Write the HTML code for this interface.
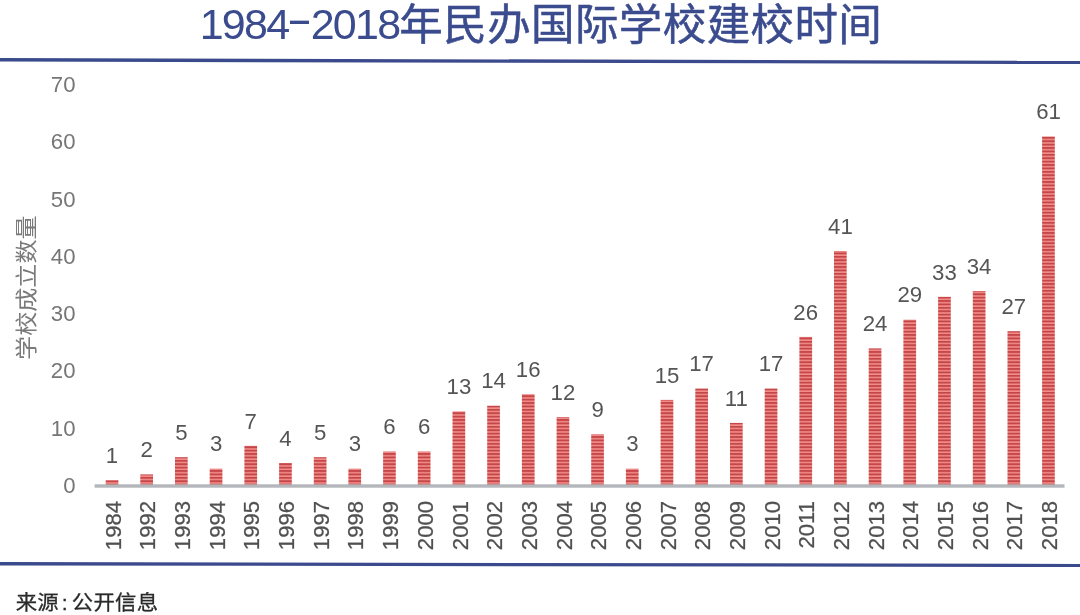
<!DOCTYPE html>
<html lang="zh-CN"><head><meta charset="utf-8"><title>1984-2018年民办国际学校建校时间</title>
<style>
html,body{margin:0;padding:0;background:#fff;}
body{width:1080px;height:615px;overflow:hidden;position:relative;}
svg{position:absolute;left:0;top:0;display:block;}
.lat{font-family:"Liberation Sans","Noto Sans CJK SC",sans-serif;}
.cjk{font-family:"Liberation Sans","Noto Sans CJK SC",sans-serif;}
</style></head><body>
<svg width="1080" height="615" viewBox="0 0 1080 615">
<defs>
<pattern id="st" x="0" y="0.9" width="14" height="3.4" patternUnits="userSpaceOnUse">
<rect x="0" y="0" width="14" height="3.4" fill="#c5464a"/>
<rect x="0" y="1.9" width="14" height="1.5" fill="#f28f88"/>
</pattern>
</defs>
<rect width="1080" height="615" fill="#ffffff"/>
<text class="cjk" x="199.7" y="38.8" font-size="43.5" fill="#3a4b8e"><tspan font-size="43" letter-spacing="-1.75">1984</tspan><tspan font-size="42" dx="-1.8" dy="-5" textLength="26" lengthAdjust="spacingAndGlyphs">-</tspan><tspan font-size="43" dx="-1.9" dy="5" letter-spacing="-1.75">2018</tspan><tspan dx="0" dy="1.2" letter-spacing="0.4" stroke="#3a4b8e" stroke-width="0.5">年民办国际学校建校时间</tspan></text>
<polygon points="0,58.1 1080,60.8 1080,64.1 0,61.6" fill="#3b4a8c"/>
<polygon points="0,562.1 1080,563.9 1080,567 0,565.4" fill="#3b4a8c"/>
<text class="lat" x="75.5" y="493.0" font-size="22.2" fill="#767676" text-anchor="end">0</text>
<text class="lat" x="75.5" y="435.7" font-size="22.2" fill="#767676" text-anchor="end">10</text>
<text class="lat" x="75.5" y="378.4" font-size="22.2" fill="#767676" text-anchor="end">20</text>
<text class="lat" x="75.5" y="321.1" font-size="22.2" fill="#767676" text-anchor="end">30</text>
<text class="lat" x="75.5" y="263.8" font-size="22.2" fill="#767676" text-anchor="end">40</text>
<text class="lat" x="75.5" y="206.5" font-size="22.2" fill="#767676" text-anchor="end">50</text>
<text class="lat" x="75.5" y="149.2" font-size="22.2" fill="#767676" text-anchor="end">60</text>
<text class="lat" x="75.5" y="91.9" font-size="22.2" fill="#767676" text-anchor="end">70</text>
<text class="cjk" transform="translate(33.9,287.7) rotate(-90) scale(1,0.92)" font-size="24.1" fill="#7a7a7a" text-anchor="middle">学校成立数量</text>
<rect x="105.7" y="480.2" width="12.7" height="5.7" fill="url(#st)"/>
<text class="lat" x="112.0" y="462.9" font-size="22.2" fill="#555555" text-anchor="middle">1</text>
<text class="lat" transform="translate(120.6,501) rotate(-90)" font-size="22.1" fill="#505050" stroke="#505050" stroke-width="0.25" text-anchor="end">1984</text>
<rect x="140.3" y="474.4" width="12.7" height="11.5" fill="url(#st)"/>
<text class="lat" x="146.7" y="457.1" font-size="22.2" fill="#555555" text-anchor="middle">2</text>
<text class="lat" transform="translate(155.3,501) rotate(-90)" font-size="22.1" fill="#505050" stroke="#505050" stroke-width="0.25" text-anchor="end">1992</text>
<rect x="175.0" y="457.2" width="12.7" height="28.6" fill="url(#st)"/>
<text class="lat" x="181.4" y="439.9" font-size="22.2" fill="#555555" text-anchor="middle">5</text>
<text class="lat" transform="translate(190.0,501) rotate(-90)" font-size="22.1" fill="#505050" stroke="#505050" stroke-width="0.25" text-anchor="end">1993</text>
<rect x="209.7" y="468.7" width="12.7" height="17.2" fill="url(#st)"/>
<text class="lat" x="216.1" y="451.4" font-size="22.2" fill="#555555" text-anchor="middle">3</text>
<text class="lat" transform="translate(224.7,501) rotate(-90)" font-size="22.1" fill="#505050" stroke="#505050" stroke-width="0.25" text-anchor="end">1994</text>
<rect x="244.4" y="445.8" width="12.7" height="40.1" fill="url(#st)"/>
<text class="lat" x="250.7" y="428.5" font-size="22.2" fill="#555555" text-anchor="middle">7</text>
<text class="lat" transform="translate(259.3,501) rotate(-90)" font-size="22.1" fill="#505050" stroke="#505050" stroke-width="0.25" text-anchor="end">1995</text>
<rect x="279.1" y="463.0" width="12.7" height="22.9" fill="url(#st)"/>
<text class="lat" x="285.4" y="445.7" font-size="22.2" fill="#555555" text-anchor="middle">4</text>
<text class="lat" transform="translate(294.0,501) rotate(-90)" font-size="22.1" fill="#505050" stroke="#505050" stroke-width="0.25" text-anchor="end">1996</text>
<rect x="313.8" y="457.2" width="12.7" height="28.6" fill="url(#st)"/>
<text class="lat" x="320.1" y="439.9" font-size="22.2" fill="#555555" text-anchor="middle">5</text>
<text class="lat" transform="translate(328.7,501) rotate(-90)" font-size="22.1" fill="#505050" stroke="#505050" stroke-width="0.25" text-anchor="end">1997</text>
<rect x="348.4" y="468.7" width="12.7" height="17.2" fill="url(#st)"/>
<text class="lat" x="354.8" y="451.4" font-size="22.2" fill="#555555" text-anchor="middle">3</text>
<text class="lat" transform="translate(363.4,501) rotate(-90)" font-size="22.1" fill="#505050" stroke="#505050" stroke-width="0.25" text-anchor="end">1998</text>
<rect x="383.1" y="451.5" width="12.7" height="34.4" fill="url(#st)"/>
<text class="lat" x="389.5" y="434.2" font-size="22.2" fill="#555555" text-anchor="middle">6</text>
<text class="lat" transform="translate(398.1,501) rotate(-90)" font-size="22.1" fill="#505050" stroke="#505050" stroke-width="0.25" text-anchor="end">1999</text>
<rect x="417.8" y="451.5" width="12.7" height="34.4" fill="url(#st)"/>
<text class="lat" x="424.2" y="434.2" font-size="22.2" fill="#555555" text-anchor="middle">6</text>
<text class="lat" transform="translate(432.8,501) rotate(-90)" font-size="22.1" fill="#505050" stroke="#505050" stroke-width="0.25" text-anchor="end">2000</text>
<rect x="452.5" y="411.4" width="12.7" height="74.5" fill="url(#st)"/>
<text class="lat" x="458.9" y="394.1" font-size="22.2" fill="#555555" text-anchor="middle">13</text>
<text class="lat" transform="translate(467.5,501) rotate(-90)" font-size="22.1" fill="#505050" stroke="#505050" stroke-width="0.25" text-anchor="end">2001</text>
<rect x="487.2" y="405.7" width="12.7" height="80.2" fill="url(#st)"/>
<text class="lat" x="493.5" y="388.4" font-size="22.2" fill="#555555" text-anchor="middle">14</text>
<text class="lat" transform="translate(502.1,501) rotate(-90)" font-size="22.1" fill="#505050" stroke="#505050" stroke-width="0.25" text-anchor="end">2002</text>
<rect x="521.9" y="394.2" width="12.7" height="91.7" fill="url(#st)"/>
<text class="lat" x="528.2" y="376.9" font-size="22.2" fill="#555555" text-anchor="middle">16</text>
<text class="lat" transform="translate(536.8,501) rotate(-90)" font-size="22.1" fill="#505050" stroke="#505050" stroke-width="0.25" text-anchor="end">2003</text>
<rect x="556.6" y="417.1" width="12.7" height="68.8" fill="url(#st)"/>
<text class="lat" x="562.9" y="399.8" font-size="22.2" fill="#555555" text-anchor="middle">12</text>
<text class="lat" transform="translate(571.5,501) rotate(-90)" font-size="22.1" fill="#505050" stroke="#505050" stroke-width="0.25" text-anchor="end">2004</text>
<rect x="591.2" y="434.3" width="12.7" height="51.6" fill="url(#st)"/>
<text class="lat" x="597.6" y="417.0" font-size="22.2" fill="#555555" text-anchor="middle">9</text>
<text class="lat" transform="translate(606.2,501) rotate(-90)" font-size="22.1" fill="#505050" stroke="#505050" stroke-width="0.25" text-anchor="end">2005</text>
<rect x="625.9" y="468.7" width="12.7" height="17.2" fill="url(#st)"/>
<text class="lat" x="632.3" y="451.4" font-size="22.2" fill="#555555" text-anchor="middle">3</text>
<text class="lat" transform="translate(640.9,501) rotate(-90)" font-size="22.1" fill="#505050" stroke="#505050" stroke-width="0.25" text-anchor="end">2006</text>
<rect x="660.6" y="399.9" width="12.7" height="85.9" fill="url(#st)"/>
<text class="lat" x="667.0" y="382.6" font-size="22.2" fill="#555555" text-anchor="middle">15</text>
<text class="lat" transform="translate(675.6,501) rotate(-90)" font-size="22.1" fill="#505050" stroke="#505050" stroke-width="0.25" text-anchor="end">2007</text>
<rect x="695.3" y="388.5" width="12.7" height="97.4" fill="url(#st)"/>
<text class="lat" x="701.6" y="371.2" font-size="22.2" fill="#555555" text-anchor="middle">17</text>
<text class="lat" transform="translate(710.2,501) rotate(-90)" font-size="22.1" fill="#505050" stroke="#505050" stroke-width="0.25" text-anchor="end">2008</text>
<rect x="730.0" y="422.9" width="12.7" height="63.0" fill="url(#st)"/>
<text class="lat" x="736.3" y="405.6" font-size="22.2" fill="#555555" text-anchor="middle">11</text>
<text class="lat" transform="translate(744.9,501) rotate(-90)" font-size="22.1" fill="#505050" stroke="#505050" stroke-width="0.25" text-anchor="end">2009</text>
<rect x="764.7" y="388.5" width="12.7" height="97.4" fill="url(#st)"/>
<text class="lat" x="771.0" y="371.2" font-size="22.2" fill="#555555" text-anchor="middle">17</text>
<text class="lat" transform="translate(779.6,501) rotate(-90)" font-size="22.1" fill="#505050" stroke="#505050" stroke-width="0.25" text-anchor="end">2010</text>
<rect x="799.4" y="336.9" width="12.7" height="149.0" fill="url(#st)"/>
<text class="lat" x="805.7" y="319.6" font-size="22.2" fill="#555555" text-anchor="middle">26</text>
<text class="lat" transform="translate(814.3,501) rotate(-90)" font-size="22.1" fill="#505050" stroke="#505050" stroke-width="0.25" text-anchor="end">2011</text>
<rect x="834.0" y="251.0" width="12.7" height="234.9" fill="url(#st)"/>
<text class="lat" x="840.4" y="233.7" font-size="22.2" fill="#555555" text-anchor="middle">41</text>
<text class="lat" transform="translate(849.0,501) rotate(-90)" font-size="22.1" fill="#505050" stroke="#505050" stroke-width="0.25" text-anchor="end">2012</text>
<rect x="868.7" y="348.4" width="12.7" height="137.5" fill="url(#st)"/>
<text class="lat" x="875.1" y="331.1" font-size="22.2" fill="#555555" text-anchor="middle">24</text>
<text class="lat" transform="translate(883.7,501) rotate(-90)" font-size="22.1" fill="#505050" stroke="#505050" stroke-width="0.25" text-anchor="end">2013</text>
<rect x="903.4" y="319.7" width="12.7" height="166.2" fill="url(#st)"/>
<text class="lat" x="909.8" y="302.4" font-size="22.2" fill="#555555" text-anchor="middle">29</text>
<text class="lat" transform="translate(918.4,501) rotate(-90)" font-size="22.1" fill="#505050" stroke="#505050" stroke-width="0.25" text-anchor="end">2014</text>
<rect x="938.1" y="296.8" width="12.7" height="189.1" fill="url(#st)"/>
<text class="lat" x="944.4" y="279.5" font-size="22.2" fill="#555555" text-anchor="middle">33</text>
<text class="lat" transform="translate(953.0,501) rotate(-90)" font-size="22.1" fill="#505050" stroke="#505050" stroke-width="0.25" text-anchor="end">2015</text>
<rect x="972.8" y="291.1" width="12.7" height="194.8" fill="url(#st)"/>
<text class="lat" x="979.1" y="273.8" font-size="22.2" fill="#555555" text-anchor="middle">34</text>
<text class="lat" transform="translate(987.7,501) rotate(-90)" font-size="22.1" fill="#505050" stroke="#505050" stroke-width="0.25" text-anchor="end">2016</text>
<rect x="1007.5" y="331.2" width="12.7" height="154.7" fill="url(#st)"/>
<text class="lat" x="1013.8" y="313.9" font-size="22.2" fill="#555555" text-anchor="middle">27</text>
<text class="lat" transform="translate(1022.4,501) rotate(-90)" font-size="22.1" fill="#505050" stroke="#505050" stroke-width="0.25" text-anchor="end">2017</text>
<rect x="1042.1" y="136.4" width="12.7" height="349.5" fill="url(#st)"/>
<text class="lat" x="1048.5" y="119.1" font-size="22.2" fill="#555555" text-anchor="middle">61</text>
<text class="lat" transform="translate(1057.1,501) rotate(-90)" font-size="22.1" fill="#505050" stroke="#505050" stroke-width="0.25" text-anchor="end">2018</text>
<rect x="94.6" y="484.3" width="969.9" height="3.4" fill="#b3b6ba"/>
<text class="cjk" transform="translate(15.8,609.6) scale(1,0.95)" font-size="21.4" fill="#2a2a2a" stroke="#2a2a2a" stroke-width="0.3">来源<tspan dx="3.2">:</tspan><tspan dx="4.0" letter-spacing="0.3">公开信息</tspan></text>
</svg>
</body></html>
